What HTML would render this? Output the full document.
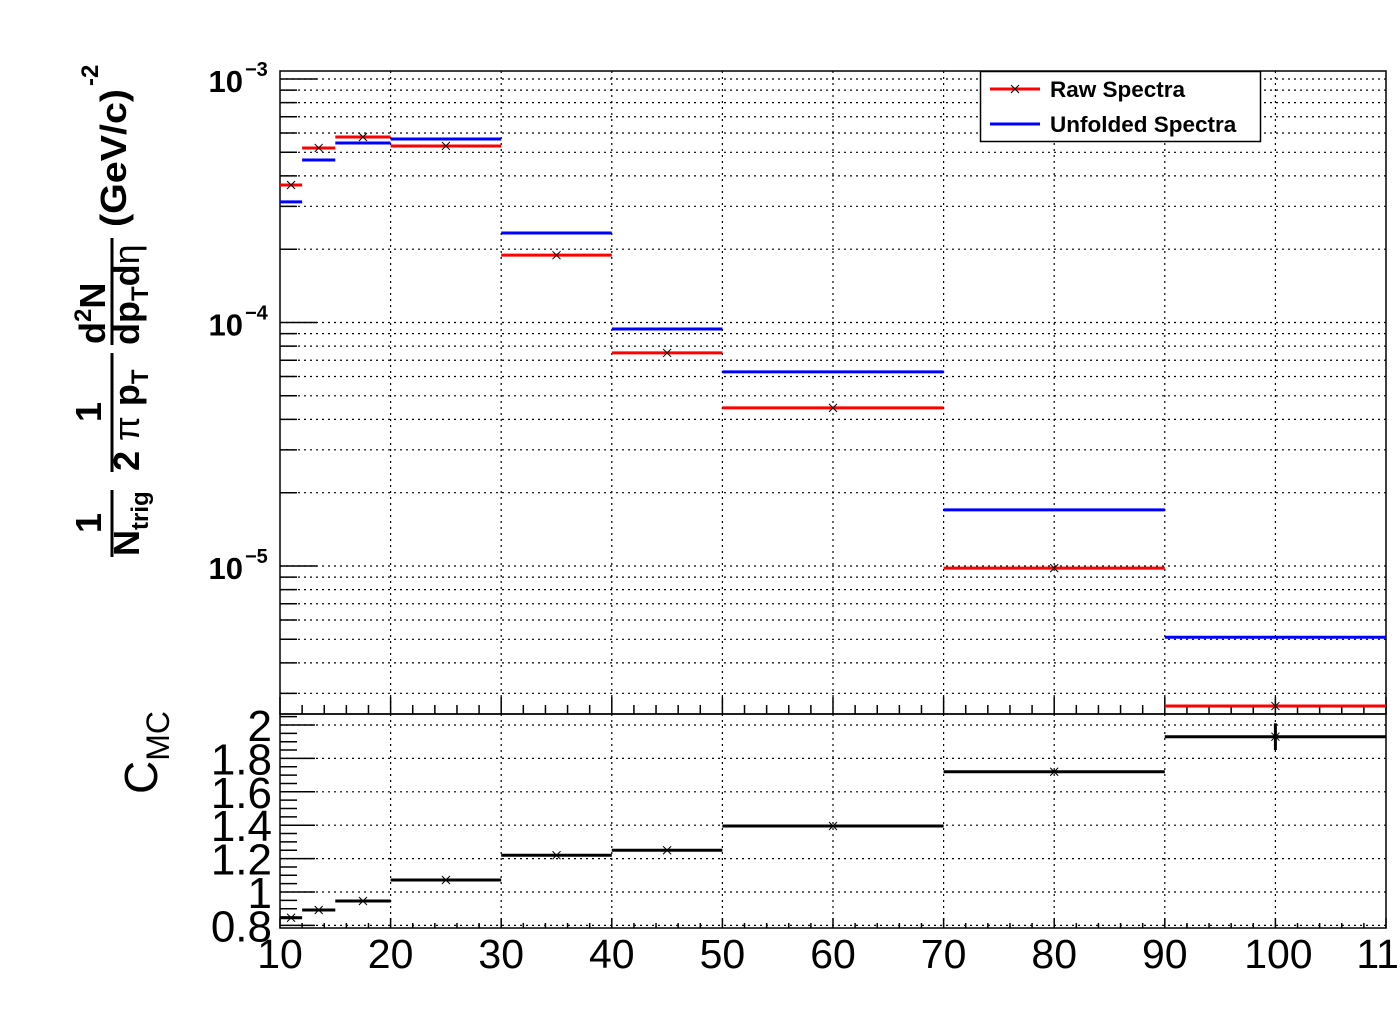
<!DOCTYPE html>
<html><head><meta charset="utf-8"><style>
html,body{margin:0;padding:0;background:#fff;}
svg{display:block;font-family:"Liberation Sans",sans-serif;}
</style></head><body>
<svg id="chart" width="1400" height="1020" viewBox="0 0 1400 1020" xmlns="http://www.w3.org/2000/svg">
<g id="topPanel"></g>
<g id="botPanel"></g>
<g id="ytitle" transform="rotate(-90)" font-weight="bold" font-size="36" fill="#000">
  <text x="-523" y="101" text-anchor="middle">1</text>
  <line x1="-557" y1="112" x2="-490" y2="112" stroke="#000" stroke-width="3"/>
  <text x="-556" y="139" font-size="36">N<tspan font-size="24" dy="9">trig</tspan></text>
  <text x="-412" y="101" text-anchor="middle">1</text>
  <line x1="-472" y1="112" x2="-353" y2="112" stroke="#000" stroke-width="3"/>
  <text x="-471" y="139">2 <tspan font-weight="normal">π</tspan> p<tspan font-size="24" dy="9">T</tspan></text>
  <text x="-344" y="105">d<tspan font-size="24" dy="-14">2</tspan><tspan dy="14">N</tspan></text>
  <line x1="-345" y1="112" x2="-238" y2="112" stroke="#000" stroke-width="3"/>
  <text x="-345" y="139">dp<tspan font-size="24" dy="9">T</tspan><tspan dy="-9">d</tspan><tspan font-weight="normal">η</tspan></text>
  <text x="-227" y="126" textLength="138" lengthAdjust="spacingAndGlyphs">(GeV/c)</text>
  <text x="-86" y="98" font-size="24">-2</text>
</g>
<g transform="rotate(-90)" font-size="46">
  <text x="-794" y="157">C<tspan font-size="32" dy="12">MC</tspan></text>
</g>
<g>
  <rect x="980.5" y="71.5" width="280" height="70" fill="#fff" stroke="#000" stroke-width="1.5"/>
  <g>
    <line x1="990" y1="89" x2="1040" y2="89" stroke="#f00" stroke-width="3"/>
    <path d="M1011 85l8 8M1019 85l-8 8" stroke="#000" stroke-width="1"/>
    <text x="1050" y="97" font-size="22.5" font-weight="bold">Raw Spectra</text>
  </g>
  <g>
    <line x1="990" y1="124" x2="1040" y2="124" stroke="#00f" stroke-width="3"/>
    <text x="1050" y="132" font-size="22.5" font-weight="bold">Unfolded Spectra</text>
  </g>
</g>
</svg>
<script>
const binEdges=[10,12,15,20,30,40,50,70,90,110];
const rawValues=[3.67e-4,5.21e-4,5.78e-4,5.31e-4,1.89e-4,7.5e-5,4.46e-5,9.8e-6,2.66e-6];
const unfoldedValues=[3.13e-4,4.65e-4,5.46e-4,5.67e-4,2.33e-4,9.4e-5,6.27e-5,1.70e-5,5.1e-6];
const ratioValues=[0.846,0.892,0.946,1.072,1.22,1.25,1.395,1.72,1.93];
const ratioErrors=[0.005,0.005,0.005,0.005,0.005,0.005,0.005,0.01,0.08];
const xTickLabels=["10","20","30","40","50","60","70","80","90","100","110"];
const yTopExponents=["-3","-4","-5"];
const yBotTickLabels=["0.8","1","1.2","1.4","1.6","1.8","2"];

const NS="http://www.w3.org/2000/svg";
const L=280,R=1386,TT=71,TB=714,BT=714,BB=928;
const xs=v=>L+(v-10)/100*(R-L);
const ysTop=v=>79+(-3-Math.log10(v))*243.5;
const ysBot=v=>892-(v-1)*167;
function mk(parent,tag,attrs){const e=document.createElementNS(NS,tag);for(const k in attrs)e.setAttribute(k,attrs[k]);parent.appendChild(e);return e;}
const topG=document.getElementById('topPanel'),botG=document.getElementById('botPanel');

const grid=mk(topG,'g',{stroke:'#000','stroke-width':1.2,'stroke-dasharray':'2,4'});


for(let x=20;x<=100;x+=10){mk(grid,'line',{x1:xs(x),y1:TT,x2:xs(x),y2:TB});mk(grid,'line',{x1:xs(x),y1:BT,x2:xs(x),y2:BB});}
for(let d=-6;d<=-3;d++)for(let m=1;m<=9;m++){const v=m*Math.pow(10,d);const y=ysTop(v);if(y>TT&&y<TB)mk(grid,'line',{x1:L,y1:y,x2:R,y2:y});}
for(let i=0;i<=6;i++){const y=ysBot(0.8+i*0.2);mk(grid,'line',{x1:L,y1:y,x2:R,y2:y});}

const ax=mk(topG,'g',{stroke:'#000','stroke-width':1.5,fill:'none'});


mk(ax,'rect',{x:L,y:TT,width:R-L,height:TB-TT});
mk(ax,'rect',{x:L,y:BT,width:R-L,height:BB-BT});
for(let d=-6;d<=-3;d++)for(let m=1;m<=9;m++){const v=m*Math.pow(10,d);const y=ysTop(v);if(y>TT&&y<TB)mk(ax,'line',{x1:L,y1:y,x2:L+(m==1?37:17),y2:y});}
for(let i=0;i<=26;i++){const v=0.8+i*0.05;const y=ysBot(v);if(y>BT&&y<BB)mk(ax,'line',{x1:L,y1:y,x2:L+(i%4==0?35:17),y2:y});}
for(let x=10;x<=110;x+=2){const maj=x%10==0;mk(ax,'line',{x1:xs(x),y1:TB,x2:xs(x),y2:TB-(maj?17:9)});mk(ax,'line',{x1:xs(x),y1:BB,x2:xs(x),y2:BB-(maj?10:5)});}

const lab=mk(topG,'g',{fill:'#000'});
xTickLabels.forEach((t,i)=>{const e=mk(lab,'text',{x:xs(10+i*10)+(t.length==3?3:0),y:968,'font-size':41,'text-anchor':'middle'});e.textContent=t;

});
yTopExponents.forEach(t=>{const y=ysTop(Math.pow(10,+t));const e=mk(lab,'text',{x:243,y:y+13,'font-size':31,'font-weight':'bold','text-anchor':'end'});e.textContent='10';


const s=mk(lab,'text',{x:245,y:y-3,'font-size':20,'font-weight':'bold'});s.textContent=t.replace('-','−');});
yBotTickLabels.forEach(t=>{const e=mk(lab,'text',{x:272,y:ysBot(+t)+16,'font-size':44,'text-anchor':'end'});e.textContent=t;

});

function hist(parent,vals,ys,color,name,marker,errs){
  const g=mk(parent,'g',{});
  
  
  vals.forEach((v,i)=>{
    const x1=xs(binEdges[i]),x2=xs(binEdges[i+1]),y=ys(v),xc=(x1+x2)/2;
    const b=mk(g,'line',{x1:x1,y1:y,x2:x2,y2:y,stroke:color,'stroke-width':3});
    
    
    if(errs){const e=errs[i];mk(g,'line',{x1:xc,y1:ys(v+e),x2:xc,y2:ys(v-e),stroke:color,'stroke-width':3});}
    if(marker)mk(g,'path',{d:`M${xc-4} ${y-4}l8 8M${xc+4} ${y-4}l-8 8`,stroke:'#000','stroke-width':1,fill:'none'});
  });
}
hist(topG,unfoldedValues,ysTop,'#00f','unfolded-series',false,null);
hist(topG,rawValues,ysTop,'#f00','raw-series',true,null);
hist(botG,ratioValues,ysBot,'#000','ratio-series',true,ratioErrors);
</script>
</body></html>
